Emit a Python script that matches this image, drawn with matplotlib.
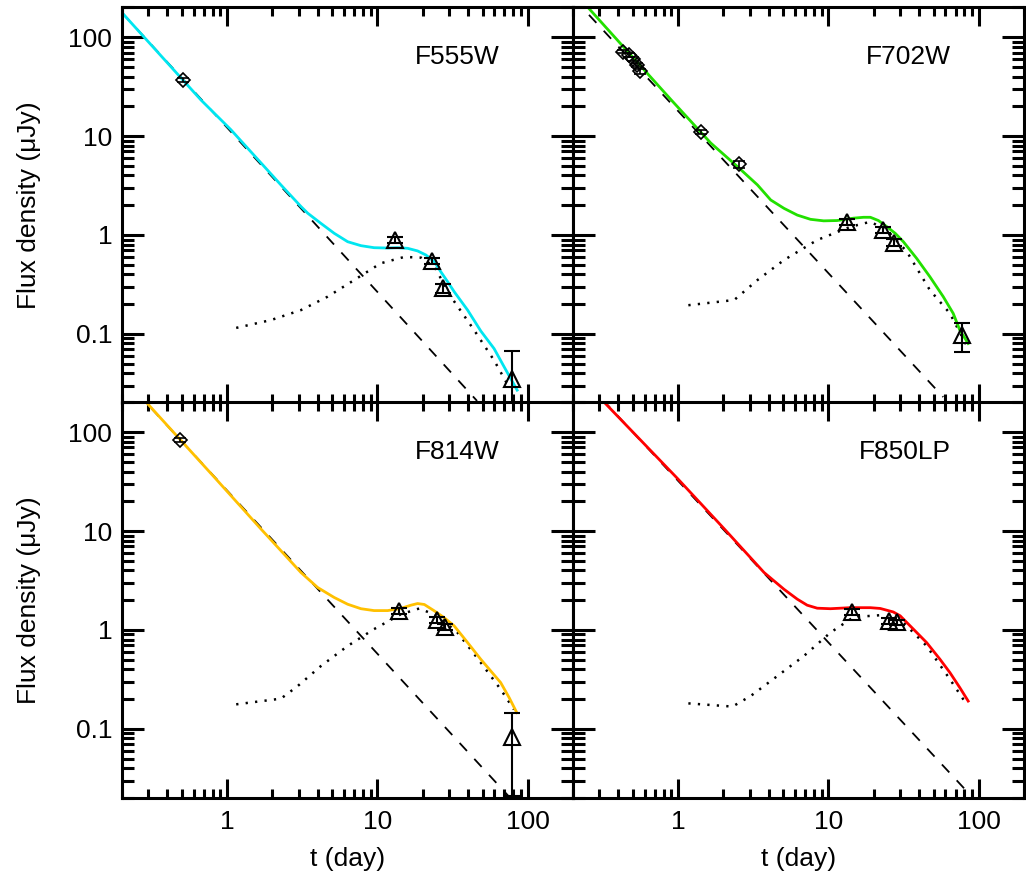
import matplotlib.pyplot as plt
from matplotlib.ticker import LogLocator, FixedLocator, NullFormatter

plt.rcParams['font.family'] = ['Liberation Sans', 'DejaVu Sans']

bands = ['F555W', 'F702W', 'F814W', 'F850LP']
colors = ['#00e6f0', '#22e000', '#ffc000', '#ff0000']

# F555W
f555w_model_t = [0.2, 0.67, 1.06, 2.28, 3.1, 3.44, 4.21, 5.16, 6.34, 7.77, 9.5, 11.7, 13.6, 15.9,
                 18.5, 21, 23.9, 26.4, 29.3, 32.4, 39.8, 48.7, 59.7, 69.6, 85]
f555w_model_f = [177, 23.2, 11.6, 3.21, 1.94, 1.66, 1.31, 1.04, 0.855, 0.78, 0.744, 0.738, 0.744, 0.733,
                 0.69, 0.628, 0.537, 0.425, 0.337, 0.267, 0.174, 0.107, 0.071, 0.0465, 0.027]
f555w_pl_t = [0.2, 46]
f555w_pl_f = [177, 0.021]
f555w_sn_t = [1.15, 1.96, 3.1, 4.67, 7.0, 10.5, 15.1, 19.5, 23.9, 30.8, 44, 59.7, 75]
f555w_sn_f = [0.115, 0.138, 0.174, 0.238, 0.35, 0.517, 0.60, 0.59, 0.48, 0.238, 0.109, 0.054, 0.029]
f555w_early_t = [0.51]
f555w_early_f = [37]
f555w_early_e = [2]
f555w_late_t = [13.1, 23, 27.2, 78]
f555w_late_f = [0.89, 0.55, 0.29, 0.035]
f555w_late_e = [0.06, 0.04, 0.03, 0.0315]

# F702W
f702w_model_t = [0.25, 0.90, 1.65, 2.48, 3.37, 4.13, 5.06, 6.2, 7.6, 9.3, 11.4, 14.7, 17.1, 19, 21.5,
                 24.5, 27.8, 31.5, 38.6, 47.3, 58, 67.6, 74.8, 85]
f702w_model_f = [202, 23.2, 8.5, 4.92, 3.21, 2.26, 1.86, 1.59, 1.44, 1.39, 1.40, 1.48, 1.51, 1.51, 1.40,
                 1.21, 1.04, 0.855, 0.58, 0.378, 0.238, 0.161, 0.109, 0.080]
f702w_pl_t = [0.2, 58]
f702w_pl_f = [251, 0.023]
f702w_sn_t = [1.17, 2.36, 3.37, 5.06, 8.42, 14, 19, 24.5, 33.2, 47.3, 64.3, 85]
f702w_sn_f = [0.195, 0.22, 0.35, 0.558, 0.89, 1.21, 1.36, 1.12, 0.68, 0.277, 0.161, 0.071]
f702w_early_t = [0.43, 0.47, 0.50, 0.53, 0.557, 1.43, 2.56]
f702w_early_f = [71.6, 66.4, 60, 52.5, 45, 10.9, 5.2]
f702w_early_e = [3, 3, 3, 2.5, 2.5, 0.5, 0.45]
f702w_late_t = [13.3, 23.2, 27.4, 77.6]
f702w_late_f = [1.36, 1.12, 0.836, 0.097]
f702w_late_e = [0.10, 0.08, 0.07, 0.031]

# F814W
f814w_model_t = [0.288, 0.845, 1.68, 3.1, 4.0, 5.16, 6.34, 7.77, 9.5, 11.7, 14.3, 16.7, 18.5, 20.5,
                 23.9, 27.8, 32.4, 39.8, 48.7, 66, 75.2, 84.5]
f814w_model_f = [203, 33.5, 10.5, 3.81, 2.69, 2.13, 1.82, 1.64, 1.57, 1.57, 1.65, 1.78, 1.85, 1.81,
                 1.56, 1.33, 1.10, 0.745, 0.505, 0.294, 0.207, 0.146]
f814w_pl_t = [0.2, 76.5]
f814w_pl_f = [366, 0.02]
f814w_sn_t = [1.15, 2.28, 2.95, 4.21, 6.34, 9.5, 14.3, 19, 25, 34.1, 48.7, 66, 81]
f814w_sn_f = [0.177, 0.202, 0.271, 0.432, 0.689, 1.02, 1.44, 1.65, 1.39, 0.94, 0.468, 0.251, 0.157]
f814w_early_t = [0.49]
f814w_early_f = [83.8]
f814w_early_e = [4]
f814w_late_t = [14, 24.8, 28, 78]
f814w_late_f = [1.56, 1.26, 1.08, 0.083]
f814w_late_e = [0.11, 0.09, 0.08, 0.062]

# F850LP
f850lp_model_t = [0.32, 1.0, 2.03, 3.73, 5.06, 6.2, 7.22, 8.42, 10.3, 14, 19, 22.1, 27, 30, 36.7,
                  45, 55.2, 64.3, 74.8, 85]
f850lp_model_f = [203, 33.5, 10.5, 3.81, 2.58, 2.05, 1.78, 1.66, 1.64, 1.68, 1.68, 1.65, 1.52, 1.39, 1.02,
                  0.745, 0.505, 0.37, 0.261, 0.191]
f850lp_pl_t = [0.2, 83]
f850lp_pl_f = [447, 0.0235]
f850lp_sn_t = [1.17, 2.3, 3.04, 4.57, 6.86, 10.3, 14.7, 22.1, 31.5, 45, 64.3, 83]
f850lp_sn_f = [0.181, 0.168, 0.215, 0.342, 0.545, 0.94, 1.35, 1.41, 1.19, 0.689, 0.317, 0.177]
f850lp_early_t = []
f850lp_early_f = []
f850lp_early_e = []
f850lp_late_t = [14.4, 25.1, 28.5]
f850lp_late_f = [1.52, 1.23, 1.19]
f850lp_late_e = [0.11, 0.09, 0.08]

panels = [
    (f555w_model_t, f555w_model_f, f555w_pl_t, f555w_pl_f, f555w_sn_t, f555w_sn_f,
     f555w_early_t, f555w_early_f, f555w_early_e, f555w_late_t, f555w_late_f, f555w_late_e),
    (f702w_model_t, f702w_model_f, f702w_pl_t, f702w_pl_f, f702w_sn_t, f702w_sn_f,
     f702w_early_t, f702w_early_f, f702w_early_e, f702w_late_t, f702w_late_f, f702w_late_e),
    (f814w_model_t, f814w_model_f, f814w_pl_t, f814w_pl_f, f814w_sn_t, f814w_sn_f,
     f814w_early_t, f814w_early_f, f814w_early_e, f814w_late_t, f814w_late_f, f814w_late_e),
    (f850lp_model_t, f850lp_model_f, f850lp_pl_t, f850lp_pl_f, f850lp_sn_t, f850lp_sn_f,
     f850lp_early_t, f850lp_early_f, f850lp_early_e, f850lp_late_t, f850lp_late_f, f850lp_late_e),
]

fig = plt.figure(figsize=(10.26, 8.84), dpi=100)
lefts = [0.1189, 0.5585, 0.1189, 0.5585]
bottoms = [0.5441, 0.5441, 0.0973, 0.0973]
w, h = 0.4396, 0.4475

for i, (band, col, p) in enumerate(zip(bands, colors, panels)):
    mt, mf, pt, pf, st, sf, et, ef, ee, lt, lf, le = p
    ax = fig.add_axes([lefts[i], bottoms[i], w, h])
    ax.set_xscale('log')
    ax.set_yscale('log')
    ax.set_xlim(0.2, 200)
    ax.set_ylim(0.02, 200)

    ax.plot(pt, pf, color='k', lw=1.3, dashes=(6, 6))
    ax.plot(st, sf, color='k', lw=1.8, dashes=(0.9, 2.9))
    ax.plot(mt, mf, color=col, lw=2.0, solid_joinstyle='round')
    if et:
        ax.errorbar(et, ef, yerr=ee, fmt='D', ms=7, mfc='none', mec='k', mew=1.2,
                    ecolor='k', elinewidth=1.2, capsize=4, capthick=1.2)
    ax.errorbar(lt, lf, yerr=le, fmt='^', ms=11, mfc='none', mec='k', mew=1.5,
                ecolor='k', elinewidth=1.5, capsize=6, capthick=1.5)

    ax.text(0.838, 0.874, band, transform=ax.transAxes, ha='right', va='center', fontsize=19)

    for s in ax.spines.values():
        s.set_linewidth(2.2)
    ax.xaxis.set_major_locator(FixedLocator([1, 10, 100]))
    ax.xaxis.set_minor_locator(LogLocator(base=10, subs=range(2, 10), numticks=20))
    ax.yaxis.set_major_locator(FixedLocator([0.1, 1, 10, 100]))
    ax.yaxis.set_minor_locator(LogLocator(base=10, subs=range(2, 10), numticks=20))
    ax.xaxis.set_minor_formatter(NullFormatter())
    ax.yaxis.set_minor_formatter(NullFormatter())
    ax.tick_params(which='both', direction='in', top=True, right=True, width=2.2, labelsize=19)
    ax.tick_params(axis='x', which='major', length=14, pad=9)
    ax.tick_params(axis='x', which='minor', length=6.5)
    ax.tick_params(axis='y', which='major', length=16, pad=7)
    ax.tick_params(axis='y', which='minor', length=8.5)

    if i >= 2:
        ax.set_xticklabels(['1', '10', '100'])
        ax.set_xlabel('t (day)', fontsize=19, labelpad=9)
    else:
        ax.set_xticklabels([])
    if i % 2 == 0:
        ax.set_yticklabels(['0.1', '1', '10', '100'])
        ax.set_ylabel('Flux density (\u03bcJy)', fontsize=19, labelpad=20)
    else:
        ax.set_yticklabels([])

fig.savefig('out.png', dpi=100)
